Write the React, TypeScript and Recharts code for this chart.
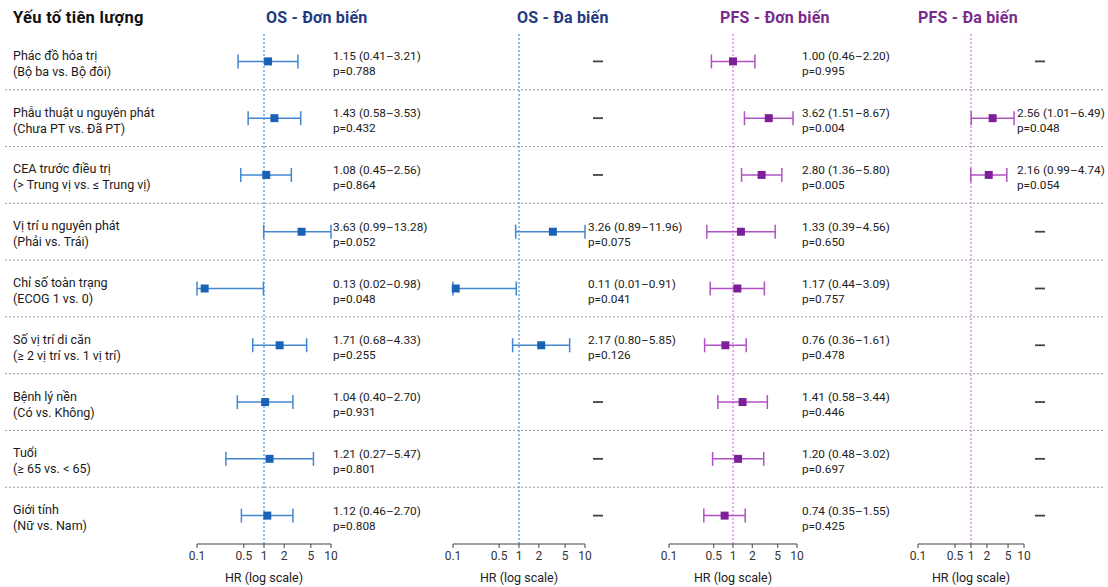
import { ScatterChart, Scatter, XAxis, YAxis, ReferenceLine, ErrorBar } from 'recharts';

// Prognostic factors (rows, top to bottom)
const factors = [
    'Phác đồ hóa trị',
    'Phẫu thuật u nguyên phát',
    'CEA trước điều trị',
    'Vị trí u nguyên phát',
    'Chỉ số toàn trạng',
    'Số vị trí di căn',
    'Bệnh lý nền',
    'Tuổi',
    'Giới tính',
];
const comparisons = [
    '(Bộ ba vs. Bộ đôi)',
    '(Chưa PT vs. Đã PT)',
    '(> Trung vị vs. ≤ Trung vị)',
    '(Phải vs. Trái)',
    '(ECOG 1 vs. 0)',
    '(≥ 2 vị trí vs. 1 vị trí)',
    '(Có vs. Không)',
    '(≥ 65 vs. < 65)',
    '(Nữ vs. Nam)',
];

// OS - univariate
const osUniHr = [1.15, 1.43, 1.08, 3.63, 0.13, 1.71, 1.04, 1.21, 1.12];
const osUniLo = [0.41, 0.58, 0.45, 0.99, 0.02, 0.68, 0.40, 0.27, 0.46];
const osUniHi = [3.21, 3.53, 2.56, 13.28, 0.98, 4.33, 2.70, 5.47, 2.70];
const osUniP = ['0.788', '0.432', '0.864', '0.052', '0.048', '0.255', '0.931', '0.801', '0.808'];

// OS - multivariate (null = not in model)
const osMultiHr = [null, null, null, 3.26, 0.11, 2.17, null, null, null];
const osMultiLo = [null, null, null, 0.89, 0.01, 0.80, null, null, null];
const osMultiHi = [null, null, null, 11.96, 0.91, 5.85, null, null, null];
const osMultiP = [null, null, null, '0.075', '0.041', '0.126', null, null, null];

// PFS - univariate
const pfsUniHr = [1.00, 3.62, 2.80, 1.33, 1.17, 0.76, 1.41, 1.20, 0.74];
const pfsUniLo = [0.46, 1.51, 1.36, 0.39, 0.44, 0.36, 0.58, 0.48, 0.35];
const pfsUniHi = [2.20, 8.67, 5.80, 4.56, 3.09, 1.61, 3.44, 3.02, 1.55];
const pfsUniP = ['0.995', '0.004', '0.005', '0.650', '0.757', '0.478', '0.446', '0.697', '0.425'];

// PFS - multivariate
const pfsMultiHr = [null, 2.56, 2.16, null, null, null, null, null, null];
const pfsMultiLo = [null, 1.01, 0.99, null, null, null, null, null, null];
const pfsMultiHi = [null, 6.49, 4.74, null, null, null, null, null, null];
const pfsMultiP = [null, '0.048', '0.054', null, null, null, null, null, null];

const hrTicks = [0.1, 0.5, 1, 2, 5, 10];

const W = 1108;
const H = 587;
const TOP = 33;
const AXIS_H = 40;
const BOTTOM = 3;
const ROW_DOMAIN: [number, number] = [-0.5, factors.length - 0.5];

const OS = { title: '#1f3a80', marker: '#1a62b5', bar: '#4287d0', ref: '#3f95e6' };
const PFS = { title: '#7a2a8c', marker: '#7e1f9a', bar: '#b052c4', ref: '#d277e2' };

const panels = [
    { title: 'OS - Đơn biến', hr: osUniHr, lo: osUniLo, hi: osUniHi, p: osUniP, theme: OS, L: 197, R: 331, annotDx: 2, dashDx: 0, titleLeft: 266 },
    { title: 'OS - Đa biến', hr: osMultiHr, lo: osMultiLo, hi: osMultiHi, p: osMultiP, theme: OS, L: 453, R: 585, annotDx: 3, dashDx: 13, titleLeft: 517 },
    { title: 'PFS - Đơn biến', hr: pfsUniHr, lo: pfsUniLo, hi: pfsUniHi, p: pfsUniP, theme: PFS, L: 669, R: 797, annotDx: 5, dashDx: 0, titleLeft: 720 },
    { title: 'PFS - Đa biến', hr: pfsMultiHr, lo: pfsMultiLo, hi: pfsMultiHi, p: pfsMultiP, theme: PFS, L: 918, R: 1024, annotDx: -7, dashDx: 16, titleLeft: 918 },
];

const fmt = (v: number) => v.toFixed(2);

function Panel({ cfg }: { cfg: (typeof panels)[number] }) {
    const padL = 40;
    const padR = 140;
    const width = cfg.R - cfg.L + padL + padR;
    const [xMin, xMax] = [hrTicks[0], hrTicks[hrTicks.length - 1]];

    const points = cfg.hr
        .map((hr, i) => {
            if (hr == null) return null;
            const lo = Math.max(cfg.lo[i] as number, xMin);
            const hi = Math.min(cfg.hi[i] as number, xMax);
            return { x: hr, y: i, err: [hr - lo, hi - hr] };
        })
        .filter(Boolean) as { x: number; y: number; err: number[] }[];

    const annots = cfg.hr.map((hr, i) => ({
        x: xMax,
        y: i,
        text: hr == null ? null : `${fmt(hr)} (${fmt(cfg.lo[i] as number)}–${fmt(cfg.hi[i] as number)})`,
        p: cfg.p[i],
    }));

    const AnnotShape = (props: any) => {
        const { cx, cy, payload } = props;
        if (payload.text == null) {
            return (
                <line x1={cx + cfg.dashDx - 5} x2={cx + cfg.dashDx + 5} y1={cy} y2={cy} stroke="#444" strokeWidth={1.8} />
            );
        }
        return (
            <g>
                <text x={cx + cfg.annotDx} y={cy - 5} fontSize={11.8} fill="#222" dominantBaseline="central">
                    {payload.text}
                </text>
                <text x={cx + cfg.annotDx} y={cy + 10} fontSize={11.8} fill="#222" dominantBaseline="central">
                    p={payload.p}
                </text>
            </g>
        );
    };

    return (
        <div style={{ position: 'absolute', left: cfg.L - padL, top: 0 }}>
            <ScatterChart width={width} height={H} margin={{ top: TOP, right: padR, bottom: BOTTOM, left: padL }}>
                <XAxis
                    type="number"
                    dataKey="x"
                    scale="log"
                    domain={[xMin, xMax]}
                    ticks={hrTicks}
                    height={AXIS_H}
                    tickSize={4}
                    tickMargin={3}
                    stroke="#444"
                    tick={{ fontSize: 12, fill: '#333' }}
                    label={{ value: 'HR (log scale)', position: 'insideBottom', offset: 2, fontSize: 12.5, fill: '#222' }}
                />
                <YAxis type="number" dataKey="y" domain={ROW_DOMAIN} reversed hide />
                <ReferenceLine x={1} stroke={cfg.theme.ref} strokeDasharray="2 2" strokeWidth={1.2} />
                <Scatter data={points} fill={cfg.theme.marker} shape="square" isAnimationActive={false}>
                    <ErrorBar dataKey="err" direction="x" width={7} stroke={cfg.theme.bar} strokeWidth={1.5} />
                </Scatter>
                <Scatter data={annots} shape={AnnotShape} isAnimationActive={false} />
            </ScatterChart>
        </div>
    );
}

export default function App() {
    const rowLabels = factors.map((f, i) => ({ x: 0, y: i, name: f, cmp: comparisons[i] }));
    const separators = factors.slice(1).map((_, i) => i + 0.5);

    const LabelShape = (props: any) => {
        const { cx, cy, payload } = props;
        return (
            <g>
                <text x={cx + 8} y={cy - 6} fontSize={12.5} fill="#1a1a1a" dominantBaseline="central">
                    {payload.name}
                </text>
                <text x={cx + 8} y={cy + 10} fontSize={12.5} fill="#1a1a1a" dominantBaseline="central">
                    {payload.cmp}
                </text>
            </g>
        );
    };

    return (
        <div
            style={{
                position: 'absolute',
                left: 0,
                top: 0,
                width: W,
                height: H,
                background: '#fff',
                fontFamily: 'Roboto, "Noto Sans", sans-serif',
            }}
        >
            {/* background: row labels + dotted row separators */}
            <div style={{ position: 'absolute', left: 0, top: 0 }}>
                <ScatterChart width={W} height={H} margin={{ top: TOP, right: 3, bottom: AXIS_H + BOTTOM, left: 5 }}>
                    <XAxis type="number" dataKey="x" domain={[0, 1]} hide />
                    <YAxis type="number" dataKey="y" domain={ROW_DOMAIN} reversed hide />
                    {separators.map((y) => (
                        <ReferenceLine key={y} y={y} stroke="#9a9a9a" strokeDasharray="2 2" strokeWidth={1} />
                    ))}
                    <Scatter data={rowLabels} shape={LabelShape} isAnimationActive={false} />
                </ScatterChart>
            </div>

            <div
                style={{ position: 'absolute', left: 13, top: 8, fontSize: 16.5, fontWeight: 700, letterSpacing: 0.3, color: '#111', lineHeight: '20px' }}
            >
                Yếu tố tiên lượng
            </div>
            {panels.map((p) => (
                <div
                    key={p.title}
                    style={{
                        position: 'absolute',
                        left: p.titleLeft,
                        top: 8,
                        fontSize: 16,
                        fontWeight: 700,
                        letterSpacing: 0.2,
                        color: p.theme.title,
                        lineHeight: '20px',
                    }}
                >
                    {p.title}
                </div>
            ))}

            {panels.map((p) => (
                <Panel key={p.title} cfg={p} />
            ))}
        </div>
    );
}
